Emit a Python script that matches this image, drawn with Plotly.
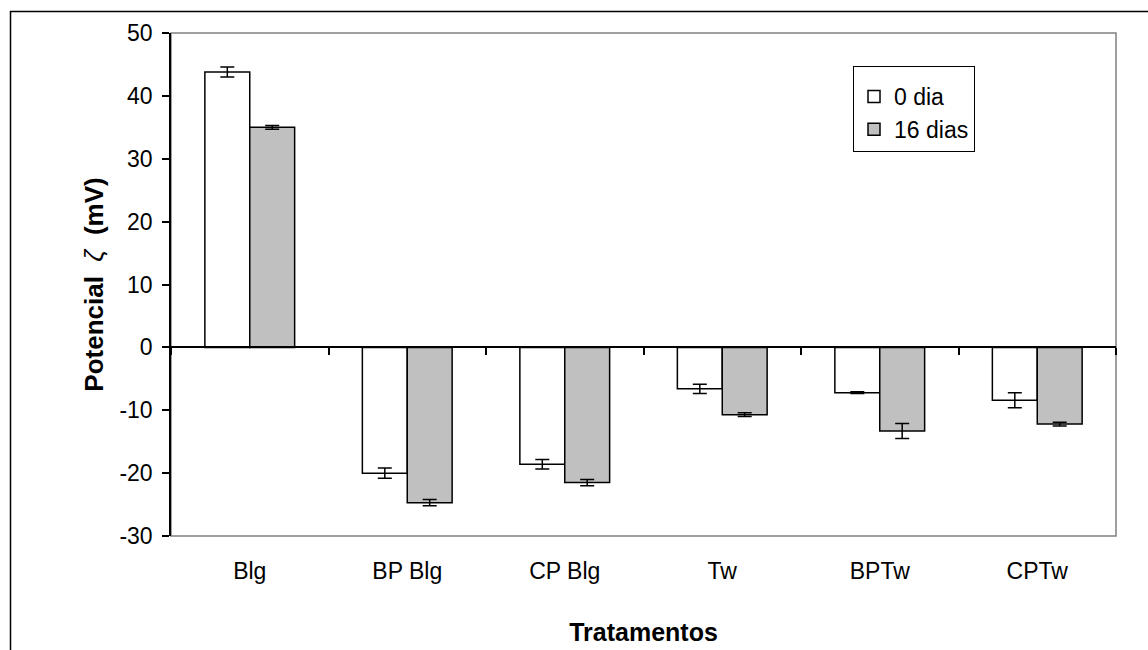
import plotly.graph_objects as go

categories = ["Blg", "BP Blg", "CP Blg", "Tw", "BPTw", "CPTw"]
day0 = [43.8, -20.0, -18.6, -6.6, -7.2, -8.4]
err0 = [0.8, 0.8, 0.75, 0.75, 0.15, 1.2]
day16 = [35.0, -24.7, -21.5, -10.7, -13.3, -12.2]
err16 = [0.3, 0.5, 0.5, 0.3, 1.2, 0.3]
series_names = ["0 dia", "16 dias"]
y_ticks = [50, 40, 30, 20, 10, 0, -10, -20, -30]
y_ticktext = ["50", "40", "30", "20", "10", "0", "-10", "-20", "-30"]

FONT = "Liberation Sans, Arial, sans-serif"
ymin, ymax = -30, 50

fig = go.Figure()
fig.add_trace(go.Bar(
    x=categories, y=day0, name=series_names[0],
    marker=dict(color="white", line=dict(color="black", width=1.5)),
    error_y=dict(type="data", array=err0, color="black", thickness=1.5, width=7),
))
fig.add_trace(go.Bar(
    x=categories, y=day16, name=series_names[1],
    marker=dict(color="#c0c0c0", line=dict(color="black", width=1.5)),
    error_y=dict(type="data", array=err16, color="black", thickness=1.5, width=7),
))
# invisible helper trace so the zero-crossing category axis is drawn
fig.add_trace(go.Scatter(
    x=categories, y=[0] * len(categories), xaxis="x2", mode="markers",
    marker=dict(opacity=0), showlegend=False, hoverinfo="skip",
))

fig.update_layout(
    width=1148, height=650,
    margin=dict(l=171, r=32, t=33, b=114, autoexpand=False),
    paper_bgcolor="white", plot_bgcolor="white",
    barmode="group", bargap=0.43, bargroupgap=0,
    font=dict(family=FONT, size=23, color="black"),
    showlegend=True,
    legend=dict(
        x=0.7217, y=0.934, xanchor="left", yanchor="top",
        bgcolor="white", bordercolor="black", borderwidth=1,
        font=dict(family=FONT, size=23, color="black"),
        title=dict(text=" ", font=dict(size=6)),
        itemwidth=30, tracegroupgap=0,
    ),
    xaxis=dict(
        type="category", categoryorder="array", categoryarray=categories,
        showline=False, ticks="", showgrid=False, zeroline=False, automargin=False,
        tickfont=dict(family=FONT, size=23),
        ticklabelstandoff=19,
        title=dict(text="<b>Tratamentos</b>", font=dict(family=FONT, size=25), standoff=40),
    ),
    xaxis2=dict(
        type="category", overlaying="x", matches="x", anchor="free",
        position=(0 - ymin) / (ymax - ymin), automargin=False,
        showline=True, linecolor="black", linewidth=1.5,
        ticks="outside", ticklen=7, tickcolor="black", tickwidth=1.5,
        tickson="boundaries", showticklabels=False, showgrid=False, zeroline=False,
    ),
    yaxis=dict(
        range=[ymin, ymax], tickvals=y_ticks, ticktext=y_ticktext,
        showgrid=False, zeroline=False, automargin=False,
        showline=True, linecolor="black", linewidth=1.5,
        ticks="outside", ticklen=7, tickcolor="black", tickwidth=1.5,
        tickfont=dict(family=FONT, size=23),
        ticklabelstandoff=5,
        title=dict(text="<b>Potencial</b>  <i>ζ</i>  <b>(mV)</b>",
                   font=dict(family=FONT, size=26), standoff=8),
    ),
    shapes=[
        dict(type="rect", xref="x domain", yref="y domain", x0=0, x1=1, y0=0, y1=1,
             line=dict(color="#808080", width=1.5), layer="below"),
        dict(type="rect", xref="paper", yref="paper",
             x0=(10.5 - 171) / 945, x1=(1170 - 171) / 945,
             y0=(536 - 670) / 503, y1=(536 - 11.5) / 503,
             line=dict(color="black", width=1.5)),
    ],
)

fig.write_html("out.html")
